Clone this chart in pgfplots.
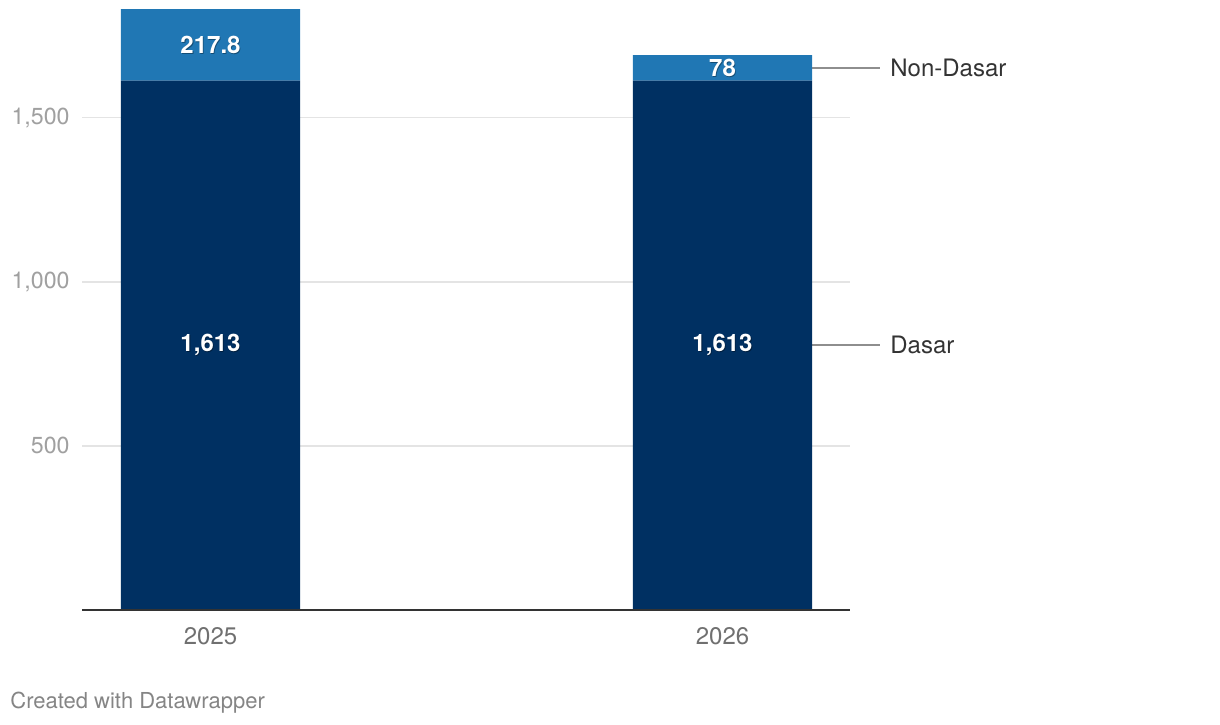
\documentclass[border=0pt]{standalone}
\usepackage{pgfplots}
\pgfplotsset{compat=1.18}
\usepackage{fontspec}
\setmainfont{TeX Gyre Heros}

\definecolor{dasar}{HTML}{003062}
\definecolor{nondasar}{HTML}{2077B4}
\definecolor{gridc}{HTML}{E4E4E4}
\definecolor{ytick}{HTML}{A0A0A0}
\definecolor{xtick}{HTML}{707070}
\definecolor{lab}{HTML}{333333}
\definecolor{conn}{HTML}{8E8E8E}

\pgfplotstableread{
x val
0 1613
1 1613
}\dasar
\pgfplotstableread{
x val
0 217.8
1 78
}\nondasar

\newcommand{\barlabel}[2]{%
  \node[text=black, opacity=0.35, font=\fontsize{12}{14}\selectfont\bfseries, xshift=0.4pt, yshift=-0.5pt] at (#1) {#2};
  \node[text=white, font=\fontsize{12}{14}\selectfont\bfseries] at (#1) {#2};}

\begin{document}
\begin{tikzpicture}
\useasboundingbox (0,0) rectangle (610pt,362pt);
\begin{axis}[
  at={(41pt,57pt)}, anchor=south west,
  scale only axis,
  width=384pt, height=305pt,
  xmin=-0.251, xmax=1.249,
  ymin=0, ymax=1859,
  ybar stacked, bar width=0.35,
  clip=false,
  axis x line*=bottom, axis y line*=left,
  x axis line style={draw=none}, y axis line style={draw=none},
  major tick length=0pt,
  xtick={0,1}, xticklabels={2025,2026},
  ytick={500,1000,1500},
  ymajorgrids, grid style={gridc, line width=0.7pt},
  /pgf/number format/assume math mode=true,
  /pgf/number format/1000 sep={,},
  yticklabel style={text=ytick, font=\fontsize{11.6}{13}\selectfont, anchor=east, inner sep=0pt, xshift=-6pt},
  xticklabel style={text=xtick, font=\fontsize{12}{14}\selectfont, anchor=north, inner sep=0pt, yshift=-8.5pt},
]
\addplot[fill=dasar, draw=none] table[x=x, y=val] {\dasar};
\addplot[fill=nondasar, draw=none] table[x=x, y=val] {\nondasar};

\coordinate (bl) at (rel axis cs:0,0);
\coordinate (br) at (rel axis cs:1,0);
\coordinate (d0) at (axis cs:0,806.5);
\coordinate (d1) at (axis cs:1,806.5);
\coordinate (n0) at (axis cs:0,1721.9);
\coordinate (n1) at (axis cs:1,1652);

\draw[conn, line width=1pt] (axis cs:1.175,1652) -- (axis cs:1.3076,1652);
\draw[conn, line width=1pt] (axis cs:1.175,806.5) -- (axis cs:1.3076,806.5);
\node[anchor=west, inner sep=0pt, text=lab, font=\fontsize{12}{14}\selectfont] at (axis cs:1.327,1652) {Non-Dasar};
\node[anchor=west, inner sep=0pt, text=lab, font=\fontsize{12}{14}\selectfont] at (axis cs:1.327,806.5) {Dasar};
\end{axis}
\draw[lab, line width=1pt] (bl) -- (br);
\barlabel{d0}{1,613}
\barlabel{d1}{1,613}
\barlabel{n0}{217.8}
\barlabel{n1}{78}
\node[anchor=west, inner sep=0pt, text=xtick!85, font=\fontsize{11}{13}\selectfont] at (5pt,10.5pt) {Created with Datawrapper};
\end{tikzpicture}
\end{document}
